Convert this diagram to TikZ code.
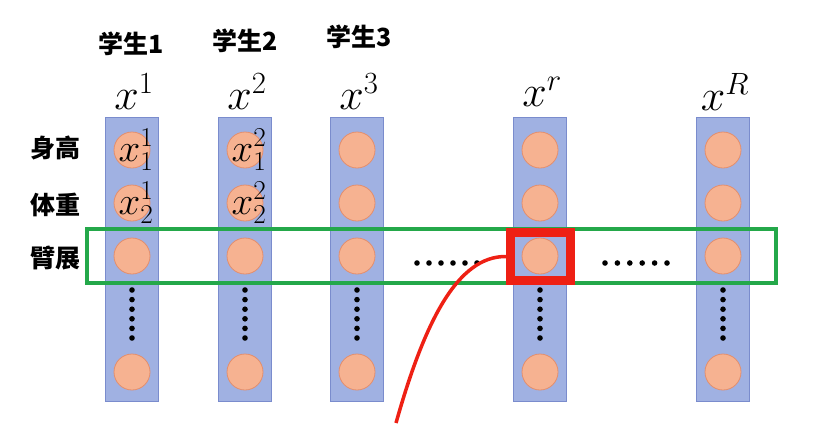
\documentclass[tikz,border=0pt]{standalone}
\usepackage{fix-cm}
\usepackage{fontspec}
\newfontfamily\cjk{Noto Sans CJK SC}
\usetikzlibrary{positioning}

\definecolor{barblue}{RGB}{160,177,226}
\definecolor{barline}{RGB}{122,140,205}
\definecolor{dotfill}{RGB}{246,178,145}
\definecolor{dotline}{RGB}{228,142,108}
\definecolor{rowgreen}{RGB}{36,168,74}
\definecolor{pickred}{RGB}{238,32,20}

\tikzset{
  bar/.style={draw=barline, fill=barblue, line width=0.8pt,
    minimum width=53pt, minimum height=284pt, inner sep=0pt},
  feat/.style={circle, draw=dotline, fill=dotfill, line width=0.8pt,
    minimum size=36pt, inner sep=0pt},
  head/.style={font=\fontsize{44}{44}\selectfont},
  who/.style={font=\cjk\bfseries\fontsize{25}{25}\selectfont},
  val/.style={font=\fontsize{39}{39}\selectfont, inner sep=0pt},
}

\begin{document}
\begin{tikzpicture}[x=1pt, y=-1pt]
  \useasboundingbox (0,0) rectangle (835,432);

  \def\dotradius{2.8}

  % one bar per student: name / x position / superscript
  \foreach \c/\x/\s in {1/132/1, 2/245/2, 3/357/3, r/540/r, R/723/R} {
    \node[bar] (bar-\c) at (\x, 259) {};
    \node[head] (head-\c) at (\x+2, 92) {$x^{\s}$};
    % three features on top, the last one at the bottom
    \foreach \r/\y in {1/150, 2/203, 3/256, 4/372} {
      \node[feat] (c-\c-\r) at (\x, \y) {};
    }
    % vertical dots between feature 3 and the last
    \foreach \k in {0,...,5} {
      \fill (\x, 290+9.6*\k) circle (\dotradius);
    }
  }

  % students
  \node[who] (stu-1) at (131, 44) {学生1};
  \node[who] (stu-2) at (245, 41) {学生2};
  \node[who] (stu-3) at (359, 37) {学生3};

  % features
  \node[who] (f-1) at (55, 148) {身高};
  \node[who] (f-2) at (55, 205) {体重};
  \node[who] (f-3) at (55, 258) {臂展};

  % values in the first two bars
  \foreach \c in {1,2} {
    \foreach \r in {1,2} {
      \node[val] at ([xshift=4pt]c-\c-\r) {$x^{\c}_{\r}$};
    }
  }

  % horizontal dots between the bars
  \foreach \k in {0,...,5} {
    \fill (417+12*\k, 263) circle (\dotradius);
    \fill (605+12.4*\k, 263) circle (\dotradius);
  }

  % the row of one feature
  \draw[rowgreen, line width=4pt] (87,229) rectangle (776,283);

  % the picked value
  \node[draw=pickred, line width=9pt, minimum width=60pt,
    minimum height=48pt, inner sep=0pt] (pick) at (540.5,256.5) {};

  \coordinate (tail) at (396,423);
  \draw[pickred, line width=3.5pt] (pick.west)
    .. controls (458,256) and (425,320) .. (tail);

\end{tikzpicture}
\end{document}
